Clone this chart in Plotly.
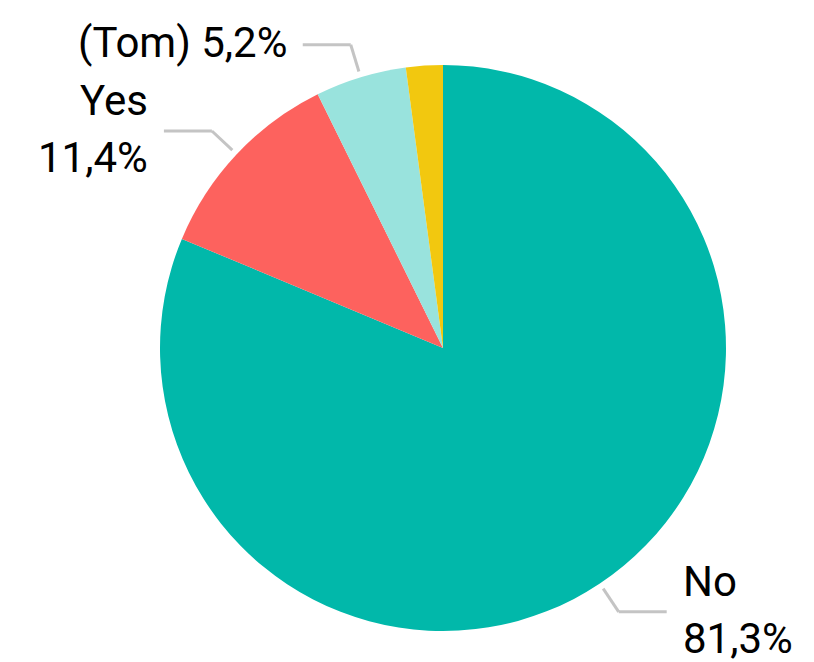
import math
import plotly.graph_objects as go

labels = ["No", "Yes", "(Tom)", "Other"]
values = [81.3, 11.4, 5.2, 2.1]
colors = ["#01B8AA", "#FD625E", "#99E3DD", "#F2C80F"]
label_lines = [["No", "81,3%"], ["Yes", "11,4%"], ["(Tom) 5,2%"], None]

W, H = 814, 662
OFF = 8  # page body offset
CX, CY, R = 443 - OFF, 348 - OFF, 283

fig = go.Figure(go.Pie(
    labels=labels, values=values, sort=False, direction="clockwise", rotation=0,
    marker=dict(colors=colors, line=dict(width=0)),
    textinfo="none", hoverinfo="label+percent",
    domain=dict(x=[(CX - R) / W, (CX + R) / W], y=[(H - CY - R) / H, (H - CY + R) / H]),
    showlegend=False,
))

def px2paper(x, y):
    return x / W, 1 - y / H

total = sum(values)
cum = 0.0
shapes, annots = [], []
for v, lines in zip(values, label_lines):
    mid = (cum + v / 2) / total * 2 * math.pi
    cum += v
    if lines is None:
        continue
    sx, sy = math.sin(mid), -math.cos(mid)
    x0, y0 = CX + (R + 6) * sx, CY + (R + 6) * sy
    x1, y1 = CX + (R + 34) * sx, CY + (R + 34) * sy
    side = 1 if sx > 0 else -1
    x2, y2 = x1 + side * 48, y1
    for (a, b), (c, d) in [((x0, y0), (x1, y1)), ((x1, y1), (x2, y2))]:
        pa, pb = px2paper(a, b)
        pc, pd = px2paper(c, d)
        shapes.append(dict(type="line", xref="paper", yref="paper", x0=pa, y0=pb, x1=pc, y1=pd,
                           line=dict(color="#C4C4C4", width=3)))
    n = len(lines)
    for i, t in enumerate(lines):
        dy = (i - (n - 1) / 2) * 57
        ax, ay = px2paper(x2 + side * 14, y2 + dy - 2)
        annots.append(dict(x=ax, y=ay, xref="paper", yref="paper", text=t, showarrow=False,
                           xanchor="left" if side > 0 else "right", yanchor="middle",
                           font=dict(family="Roboto", size=42, color="#000000")))

fig.update_layout(width=W, height=H, margin=dict(l=0, r=0, t=0, b=0),
                  paper_bgcolor="white", plot_bgcolor="white",
                  shapes=shapes, annotations=annots)
fig.write_html("out.html")
